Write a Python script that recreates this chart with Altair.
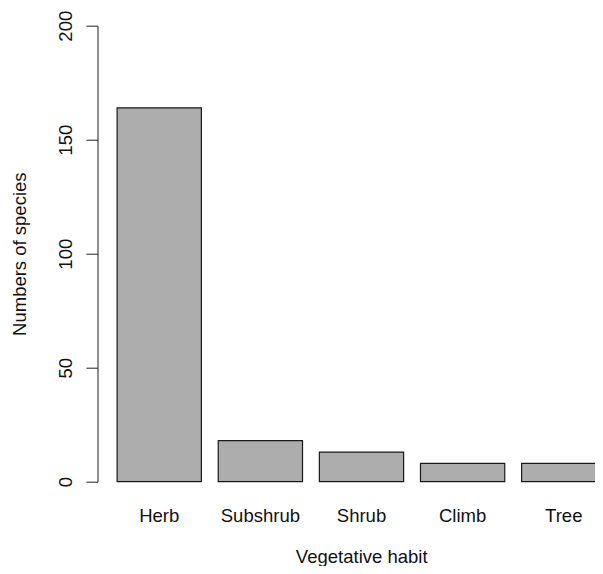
import altair as alt
import pandas as pd

habits = ["Herb", "Subshrub", "Shrub", "Climb", "Tree"]
species = [164, 18, 13, 8, 8]
y_ticks = [0, 50, 100, 150, 200]

df = pd.DataFrame({"habit": habits, "n": species})
FONT = "Liberation Sans"
FS = 18.5
TXT = "#111111"

chart = alt.Chart(df).mark_bar(
    fill="#ADADAD", stroke="#1a1a1a", strokeWidth=1.2
).encode(
    x=alt.X(
        "habit:N",
        sort=habits,
        scale=alt.Scale(paddingInner=1 / 6, paddingOuter=0.194, range=[0, 528]),
        axis=alt.Axis(
            title="Vegetative habit",
            labelAngle=0,
            domain=False,
            ticks=False,
            labelPadding=25,
            labelFontSize=FS,
            titleFontSize=FS,
            titleFontWeight="normal",
            titleX=263.7,
            titleY=80.5,
            titleAlign="center",
            titleBaseline="alphabetic",
            labelFont=FONT,
            titleFont=FONT,
            labelColor=TXT,
            titleColor=TXT,
        ),
    ),
    y=alt.Y(
        "n:Q",
        scale=alt.Scale(domain=[0, 200], nice=False, zero=True),
        axis=alt.Axis(
            values=y_ticks,
            title="Numbers of species",
            grid=False,
            tickSize=11.6,
            labelAngle=270,
            labelAlign="center",
            labelBaseline="alphabetic",
            labelPadding=14,
            labelFlush=False,
            labelOverlap=False,
            labelFontSize=FS,
            labelFont=FONT,
            labelColor=TXT,
            titleFont=FONT,
            titleFontSize=FS,
            titleFontWeight="normal",
            titleColor=TXT,
            titleX=-72.5,
            titleY=228,
            titleAngle=270,
            titleAlign="center",
            titleBaseline="alphabetic",
            domainColor="#222222",
            tickColor="#222222",
        ),
    ),
).properties(
    width=497.5,
    height=456,
    autosize=alt.AutoSizeParams(type="none"),
    padding={"left": 89.5, "top": 17.7, "right": 0, "bottom": 84.3},
).configure_view(stroke=None)

chart.save("out.html", embed_options={"renderer": "svg", "actions": False})
